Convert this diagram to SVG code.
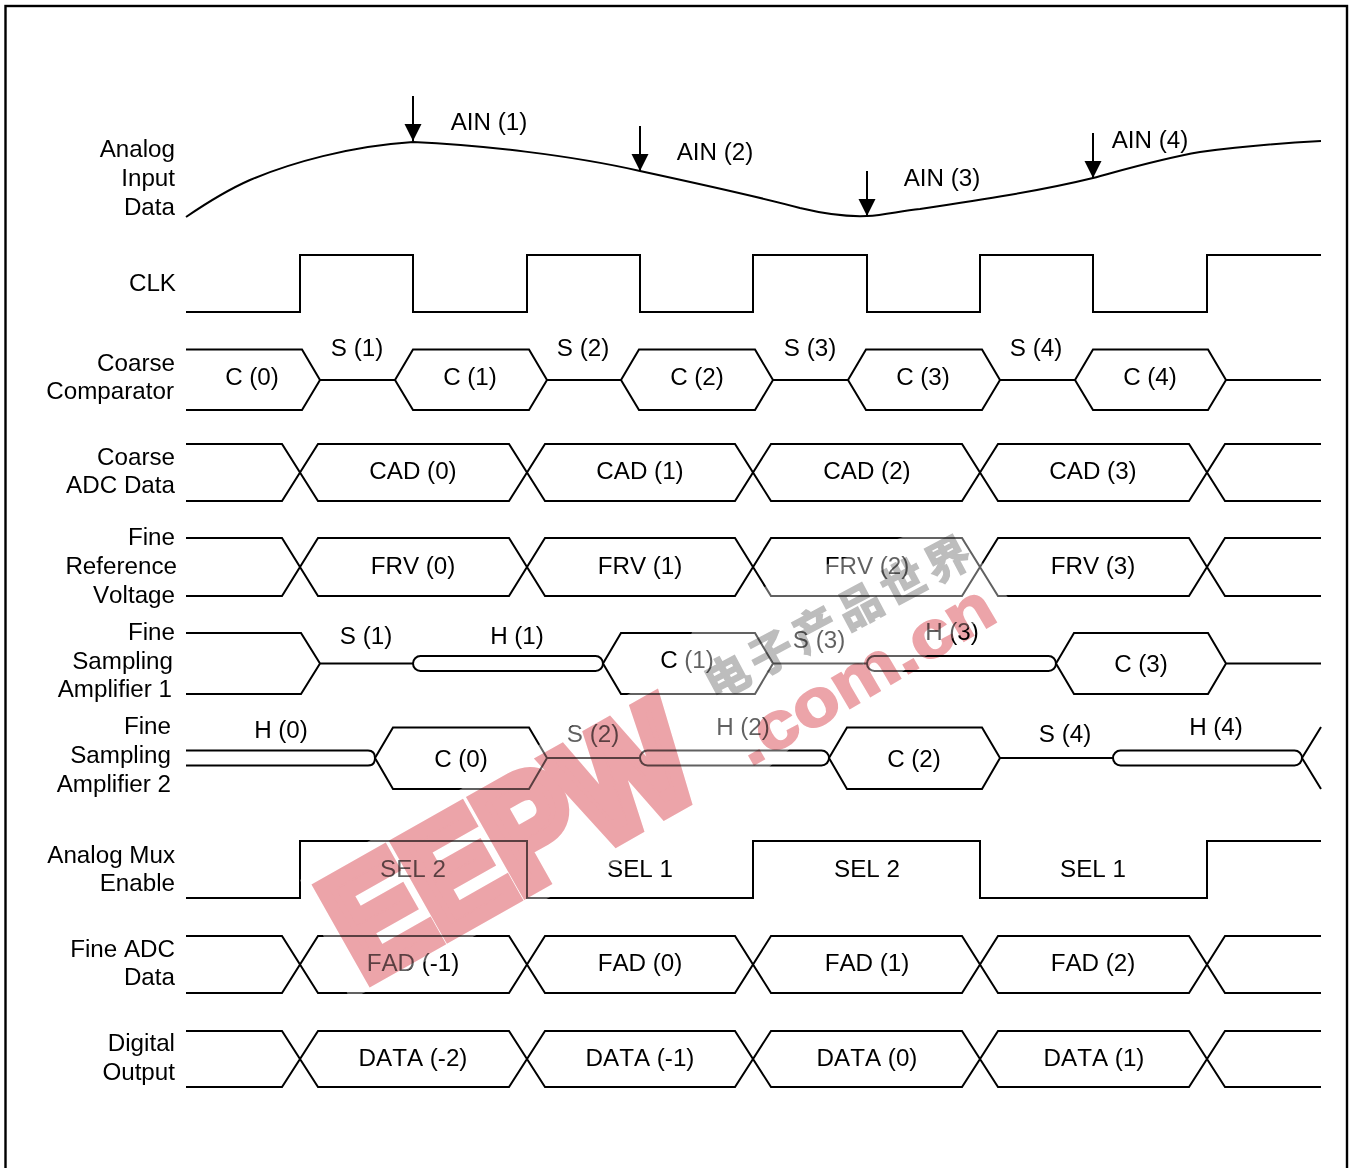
<svg xmlns="http://www.w3.org/2000/svg" width="1355" height="1168" viewBox="0 0 1355 1168">
<defs>
<marker id="arr" markerUnits="userSpaceOnUse" markerWidth="18" markerHeight="18" refX="17" refY="8.5" orient="auto"><path d="M0 0L17 8.5L0 17Z" fill="#000"/></marker>
</defs>
<style>
text{font-family:"Liberation Sans",Arial,sans-serif;font-size:24.2px;fill:#000;font-kerning:none}
.l{text-anchor:end}
.c{text-anchor:middle}
path.w,rect.w{fill:none;stroke:#000;stroke-width:2}
.wm{mix-blend-mode:multiply}
</style>
<rect width="1355" height="1168" fill="#fff"/>
<rect x="5.5" y="6" width="1341.500" height="1170" fill="none" stroke="#000" stroke-width="2.400"/>
<g id="analog-input">
<text class="l" x="175" y="157">Analog</text><text class="l" x="175" y="186">Input</text><text class="l" x="175" y="215">Data</text>
<path class="w" d="M186 217C205 204 225 191 250 180C290 163 350 146 413 142C480 145 570 155 640 171C700 184 760 197 800 208C825 214 845 217 867 216C885 215 900 211 920 209C980 200 1040 191 1093 178C1130 168 1160 159 1200 152C1245 146 1285 143 1321 141"/>
<path class="w" d="M413 96V141" marker-end="url(#arr)"/><path class="w" d="M640 126V171" marker-end="url(#arr)"/><path class="w" d="M867 171V216" marker-end="url(#arr)"/><path class="w" d="M1093 133V178" marker-end="url(#arr)"/>
<text class="c" x="489" y="130">AIN (1)</text><text class="c" x="715" y="160">AIN (2)</text><text class="c" x="942" y="186">AIN (3)</text><text class="c" x="1150" y="148">AIN (4)</text>
</g>
<g id="clk">
<text class="l" x="176" y="291">CLK</text>
<path class="w" d="M186 312H300V255H413V312H527V255H640V312H753V255H867V312H980V255H1093V312H1207V255H1321"/>
</g>
<g id="coarse-comparator">
<text class="l" x="175" y="371">Coarse</text><text class="l" x="174" y="399">Comparator</text>
<path class="w" d="M186 349.500H302L320 380L302 410H186M320 380H395L413 349.500H529L547 380L529 410H413L395 380M547 380H621L639 349.500H755L773 380L755 410H639L621 380M773 380H848L866 349.500H982L1000 380L982 410H866L848 380M1000 380H1075L1093 349.500H1208L1226 380L1208 410H1093L1075 380M1226 380H1321"/>
<text class="c" x="252" y="385">C (0)</text><text class="c" x="470" y="385">C (1)</text><text class="c" x="697" y="385">C (2)</text><text class="c" x="923" y="385">C (3)</text><text class="c" x="1150" y="385">C (4)</text>
<text class="c" x="357" y="356">S (1)</text><text class="c" x="583" y="356">S (2)</text><text class="c" x="810" y="356">S (3)</text><text class="c" x="1036" y="356">S (4)</text>
</g>
<g id="coarse-adc">
<text class="l" x="175" y="465">Coarse</text><text class="l" x="175" y="493">ADC Data</text>
<path class="w" d="M186 444H282L318 501H509L545 444H735L771 501H962L998 444H1189L1225 501H1321M186 501H282L318 444H509L545 501H735L771 444H962L998 501H1189L1225 444H1321"/>
<text class="c" x="413" y="479">CAD (0)</text><text class="c" x="640" y="479">CAD (1)</text><text class="c" x="867" y="479">CAD (2)</text><text class="c" x="1093" y="479">CAD (3)</text>
</g>
<g id="fine-reference">
<text class="l" x="175" y="545">Fine</text><text class="l" x="177" y="574">Reference</text><text class="l" x="175" y="603">Voltage</text>
<path class="w" d="M186 538H282L318 596H509L545 538H735L771 596H962L998 538H1189L1225 596H1321M186 596H282L318 538H509L545 596H735L771 538H962L998 596H1189L1225 538H1321"/>
<text class="c" x="413" y="574">FRV (0)</text><text class="c" x="640" y="574">FRV (1)</text><text class="c" x="867" y="574">FRV (2)</text><text class="c" x="1093" y="574">FRV (3)</text>
</g>
<g id="fine-sampling-1">
<text class="l" x="175" y="640">Fine</text><text class="l" x="173" y="669">Sampling</text><text class="l" x="172" y="697">Amplifier 1</text>
<path class="w" d="M186 633H301L320 663.500L301 694H186M320 663.500H413"/>
<rect class="w" x="413" y="656" width="190" height="15" rx="7.500"/>
<path class="w" d="M603 663.500L621 633H755L773 663.500L755 694H621ZM773 663.500H867"/>
<rect class="w" x="867" y="656" width="189" height="15" rx="7.500"/>
<path class="w" d="M1056 663.500L1074 633H1208L1226 663.500L1208 694H1074ZM1226 663.500H1321"/>
<text class="c" x="366" y="644">S (1)</text><text class="c" x="517" y="644">H (1)</text><text class="c" x="687" y="668">C (1)</text><text class="c" x="819" y="648">S (3)</text><text class="c" x="952" y="640">H (3)</text><text class="c" x="1141" y="672">C (3)</text>
</g>
<g id="fine-sampling-2">
<text class="l" x="171" y="734">Fine</text><text class="l" x="171" y="763">Sampling</text><text class="l" x="171" y="792">Amplifier 2</text>
<path class="w" d="M186 750.500H368Q375 750.500 375 758Q375 765.500 368 765.500H186"/>
<path class="w" d="M375 758L393 727.500H529L547 758L529 789H393ZM547 758H640"/>
<rect class="w" x="640" y="750.500" width="189" height="15" rx="7.500"/>
<path class="w" d="M829 758L847 727.500H982L1000 758L982 789H847ZM1000 758H1113"/>
<rect class="w" x="1113" y="750.500" width="189" height="15" rx="7.500"/>
<path class="w" d="M1321 727L1302 758L1321 789"/>
<text class="c" x="281" y="738">H (0)</text><text class="c" x="461" y="767">C (0)</text><text class="c" x="593" y="742">S (2)</text><text class="c" x="743" y="735">H (2)</text><text class="c" x="914" y="767">C (2)</text><text class="c" x="1065" y="742">S (4)</text><text class="c" x="1216" y="735">H (4)</text>
</g>
<g id="analog-mux">
<text class="l" x="175" y="863">Analog Mux</text><text class="l" x="175" y="891">Enable</text>
<path class="w" d="M186 898H300V841H527V898H753V841H980V898H1207V841H1321"/>
<text class="c" x="413" y="877">SEL 2</text><text class="c" x="640" y="877">SEL 1</text><text class="c" x="867" y="877">SEL 2</text><text class="c" x="1093" y="877">SEL 1</text>
</g>
<g id="fine-adc">
<text class="l" x="175" y="957">Fine ADC</text><text class="l" x="175" y="985">Data</text>
<path class="w" d="M186 936H282L318 993H509L545 936H735L771 993H962L998 936H1189L1225 993H1321M186 993H282L318 936H509L545 993H735L771 936H962L998 993H1189L1225 936H1321"/>
<text class="c" x="413" y="971">FAD (-1)</text><text class="c" x="640" y="971">FAD (0)</text><text class="c" x="867" y="971">FAD (1)</text><text class="c" x="1093" y="971">FAD (2)</text>
</g>
<g id="digital-output">
<text class="l" x="175" y="1051">Digital</text><text class="l" x="175" y="1080">Output</text>
<path class="w" d="M186 1031H282L318 1087H509L545 1031H735L771 1087H962L998 1031H1189L1225 1087H1321M186 1087H282L318 1031H509L545 1087H735L771 1031H962L998 1087H1189L1225 1031H1321"/>
<text class="c" x="413" y="1066">DATA (-2)</text><text class="c" x="640" y="1066">DATA (-1)</text><text class="c" x="867" y="1066">DATA (0)</text><text class="c" x="1094" y="1066">DATA (1)</text>
</g>
<g id="watermark">
<path d="M350 1000L300 880L680 665L700 610L950 520L1010 600L800 740L720 810Z" fill="#fff" fill-opacity=".38"/>
<text class="wm" transform="translate(364 982) rotate(-29.500)" textLength="392" lengthAdjust="spacingAndGlyphs" style="font-size:150px;font-weight:bold;fill:#eca4a9;stroke:#eca4a9;stroke-width:15;stroke-linejoin:miter">EEPW</text>
<text class="wm" transform="translate(750 767) rotate(-30.500)" textLength="290" lengthAdjust="spacingAndGlyphs" style="font-size:66px;font-weight:bold;fill:#eca4a9;stroke:#eca4a9;stroke-width:2">.com.cn</text>
<text class="wm" transform="translate(715 701) rotate(-28)" style="font-family:'Noto Sans CJK SC',sans-serif;font-size:44px;font-weight:bold;letter-spacing:6px;fill:#bdbdbd;stroke:#bdbdbd;stroke-width:1.500">电子产品世界</text>
</g>
</svg>
